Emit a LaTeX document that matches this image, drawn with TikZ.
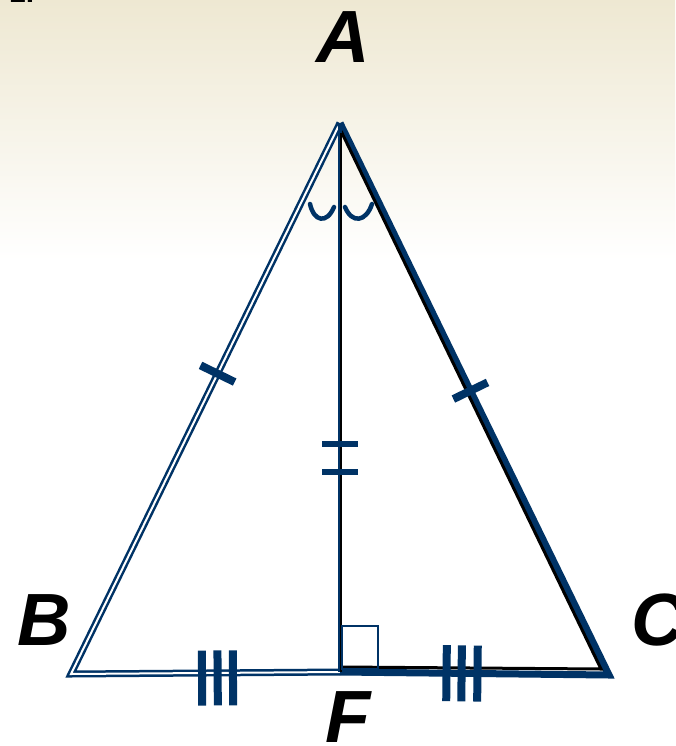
\documentclass[tikz,border=0pt]{standalone}
\usepackage{fontspec}
\setmainfont{Liberation Sans}
\usepackage{tikz}
\usetikzlibrary{calc,positioning}
\usepackage{xcolor}
\definecolor{navy}{RGB}{0,51,102}
\definecolor{cream}{RGB}{238,232,210}

\begin{document}
\begin{tikzpicture}[x=1pt,y=-1pt,
    vlabel/.style={font=\fontsize{74}{74}\selectfont\bfseries\itshape, text=black, inner sep=0pt},
    tickmark/.style={sloped, fill=navy, inner sep=0pt, minimum width=8pt, minimum height=#1},
    tickmark/.default=38pt,
    anglearc/.style={navy, line width=4.5pt, line cap=round}]
    \useasboundingbox (0,0) rectangle (675,746);
    \clip (0,0) rectangle (675,746);

    % Background
    \fill[white] (0,0) rectangle (675,746);
    \shade[top color=cream, bottom color=white] (0,0) rectangle (675,260);
    \node[font=\fontsize{30}{30}\selectfont\bfseries, anchor=base west, inner sep=0pt] (num) at (9,3) {1.};

    % Vertices
    \coordinate (A) at (340,123);
    \coordinate (B) at (71,674);
    \coordinate (C) at (609,675);
    \coordinate (F) at (340,672);

    % Sides
    \draw[navy, line width=2.5pt, double=white, double distance=2pt, line join=miter] (F) -- (B) -- (A);
    \draw[navy, line width=7pt, line join=miter] (A) -- (C) -- (F);
    \draw[black, line width=3pt] ($(A)+(1,8)$) -- ($(C)+(-8,-6)$) -- ($(F)+(1,-5)$);

    % Altitude
    \draw[navy, line width=4.5pt] (A) -- (F);
    \draw[black, line width=2pt] ($(A)+(1.2,10)$) -- ($(F)+(1.2,0)$);

    % Right angle
    \draw[navy, line width=1.5pt] ($(F)+(2,-3)$) rectangle ($(F)+(38,-46)$);

    % Equal angles
    \draw[anglearc] (310,204) .. controls (314,222) and (327,224) .. (334,207);
    \draw[anglearc] (345,207) .. controls (352,224) and (366,222) .. (372,204);

    % Tick marks
    \path (A) -- (B) node[tickmark, pos=0.455] (tAB) {};
    \path (A) -- (C) node[tickmark, pos=0.485] (tAC) {};
    \path (A) -- (F) node[tickmark=36pt, minimum width=6pt, pos=0.585] (tAF1) {}
                     node[tickmark=36pt, minimum width=6pt, pos=0.635] (tAF2) {};
    \path (B) -- (F) node[tickmark=55pt, pos=0.487, yshift=-5pt] (tBF1) {}
                     node[tickmark=55pt, pos=0.545, yshift=-5pt] (tBF2) {}
                     node[tickmark=55pt, pos=0.602, yshift=-5pt] (tBF3) {};
    \path (F) -- (C) node[tickmark=56pt, pos=0.396] (tFC1) {}
                     node[tickmark=56pt, pos=0.452] (tFC2) {}
                     node[tickmark=56pt, pos=0.511] (tFC3) {};

    % Labels
    \node[vlabel] (lA) at (343,37) {A};
    \node[vlabel] (lB) at (44,620) {B};
    \node[vlabel] (lC) at (658,620) {C};
    \node[vlabel] (lF) at (348,717) {F};
\end{tikzpicture}
\end{document}
